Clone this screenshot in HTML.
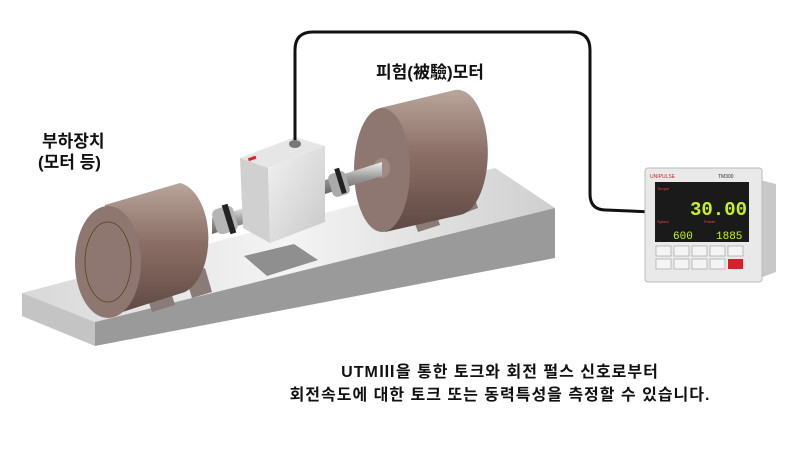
<!DOCTYPE html>
<html><head><meta charset="utf-8"><style>
body{margin:0;background:#fff;width:802px;height:451px;overflow:hidden;position:relative;font-family:"Liberation Sans","Noto Sans CJK KR",sans-serif}
.t{position:absolute;font-weight:bold;color:#111;white-space:nowrap}
</style></head><body>
<svg width="802" height="451" style="position:absolute;left:0;top:0">
<defs>
<linearGradient id="mot" x1="0" y1="0" x2="0" y2="1"><stop offset="0" stop-color="#b8a59b"/><stop offset="0.45" stop-color="#8b6f66"/><stop offset="1" stop-color="#5e4843"/></linearGradient>
<linearGradient id="top" x1="0" y1="0" x2="1" y2="0"><stop offset="0" stop-color="#d8d8d8"/><stop offset="0.5" stop-color="#f4f4f4"/><stop offset="1" stop-color="#cfcfcf"/></linearGradient>
<linearGradient id="shaft" x1="0" y1="0" x2="0" y2="1"><stop offset="0" stop-color="#eee"/><stop offset="0.5" stop-color="#999"/><stop offset="1" stop-color="#666"/></linearGradient>
<linearGradient id="box" x1="0" y1="0" x2="1" y2="1"><stop offset="0" stop-color="#f2f2f2"/><stop offset="1" stop-color="#c8c8c8"/></linearGradient>
</defs>
<polygon points="22,293 495,168 555,208 95,322" fill="url(#top)"/>
<polygon points="95,322 555,208 555,258 95,346" fill="#9a9a9a"/>
<polygon points="22,293 95,322 95,346 22,316" fill="#c4c4c4"/>
<polygon points="244,256 294,244 318,260 267,276" fill="#8f8f8f"/>
<polygon points="408,205 430,195 440,225 418,232" fill="#8a7b78"/>
<polygon points="452,190 470,184 478,208 462,214" fill="#8a7b78"/>
<path d="M380,108 L455,90 A30,62 0 0 1 460,215 L385,232 Z" fill="url(#mot)"/>
<ellipse cx="382" cy="170" rx="28" ry="62" fill="#8e7770"/>
<ellipse cx="382" cy="168" rx="8" ry="10" fill="#a08a83"/>
<polygon points="325,180 382,162 382,176 325,194" fill="url(#shaft)"/>
<rect x="330" y="172" width="18" height="24" rx="5" fill="#aaa" transform="rotate(-17 339 184)"/>
<rect x="338" y="168" width="5" height="26" fill="#222" transform="rotate(-17 340 181)"/>
<polygon points="145,290 168,282 175,305 152,312" fill="#8a7b78"/>
<polygon points="185,275 205,268 212,292 192,298" fill="#8a7b78"/>
<path d="M105,205 L180,183 A33,56 0 0 1 185,292 L110,316 Z" fill="url(#mot)"/>
<ellipse cx="108" cy="262" rx="33" ry="56" fill="#8e7770"/>
<ellipse cx="108" cy="262" rx="23" ry="40" fill="none" stroke="#5a4020" stroke-width="0.8"/>
<polygon points="212,218 250,206 250,222 212,234" fill="url(#shaft)"/>
<rect x="214" y="207" width="22" height="26" rx="6" fill="#b5b5b5" transform="rotate(-17 225 220)"/>
<rect x="226" y="204" width="6" height="30" fill="#222" transform="rotate(-17 229 219)"/>
<polygon points="240,158 295,137 325,146 268,168" fill="#e6e6e6"/>
<polygon points="268,168 325,146 325,222 270,243" fill="url(#box)"/>
<polygon points="240,158 268,168 270,243 243,228" fill="#d0d0d0"/>
<rect x="248" y="157" width="8" height="3" fill="#d22" transform="rotate(-20 252 158)"/>
<ellipse cx="295" cy="144" rx="6" ry="4" fill="#777"/>
<path d="M295,140 L295,50 Q295,32 313,32 L572,32 Q590,32 590,50 L590,194 Q590,210 606,210 L652,212" fill="none" stroke="#111" stroke-width="3"/>
<polygon points="760,180 776,184 776,272 760,278" fill="#c8c8c8"/>
<rect x="645" y="168" width="117" height="114" rx="3" fill="#e9e9e9" stroke="#bbb"/>
<text x="650" y="178" font-size="5" fill="#c22" font-family="Liberation Sans">UNIPULSE</text>
<text x="718" y="178" font-size="5" fill="#333" font-family="Liberation Sans">TM300</text>
<rect x="655" y="182" width="94" height="60" fill="#1a1a1a"/>
<text x="690" y="215" font-size="19" fill="#c8f020" font-family="Liberation Mono" font-weight="bold">30.00</text>
<text x="673" y="239" font-size="11" fill="#c8f020" font-family="Liberation Mono">600</text>
<text x="716" y="239" font-size="11" fill="#c8f020" font-family="Liberation Mono">1885</text>
<text x="657" y="190" font-size="4" fill="#e44">Torque</text>
<text x="657" y="223" font-size="4" fill="#e44">Speed</text>
<text x="704" y="223" font-size="4" fill="#e44">Power</text>
<g fill="#f4f4f4" stroke="#999" stroke-width="0.6">
<rect x="656" y="246" width="15" height="10"/><rect x="674" y="246" width="15" height="10"/><rect x="692" y="246" width="15" height="10"/><rect x="710" y="246" width="15" height="10"/><rect x="728" y="246" width="15" height="10"/>
<rect x="656" y="259" width="15" height="10"/><rect x="674" y="259" width="15" height="10"/><rect x="692" y="259" width="15" height="10"/><rect x="710" y="259" width="15" height="10"/>
</g>
<rect x="728" y="259" width="15" height="10" fill="#d8202a"/>
</svg>
<div class="t" style="left:376px;top:58px;font-size:17px">피험(被驗)모터</div>
<div class="t" style="left:42px;top:127px;font-size:17px">부하장치</div>
<div class="t" style="left:38px;top:148px;font-size:17px">(모터 등)</div>
<div class="t" style="left:300px;top:358px;font-size:16px;width:400px;text-align:center;letter-spacing:1px">UTMⅢ을 통한 토크와 회전 펄스 신호로부터</div>
<div class="t" style="left:280px;top:381px;font-size:16px;width:440px;text-align:center;letter-spacing:1px">회전속도에 대한 토크 또는 동력특성을 측정할 수 있습니다.</div>
</body></html>
